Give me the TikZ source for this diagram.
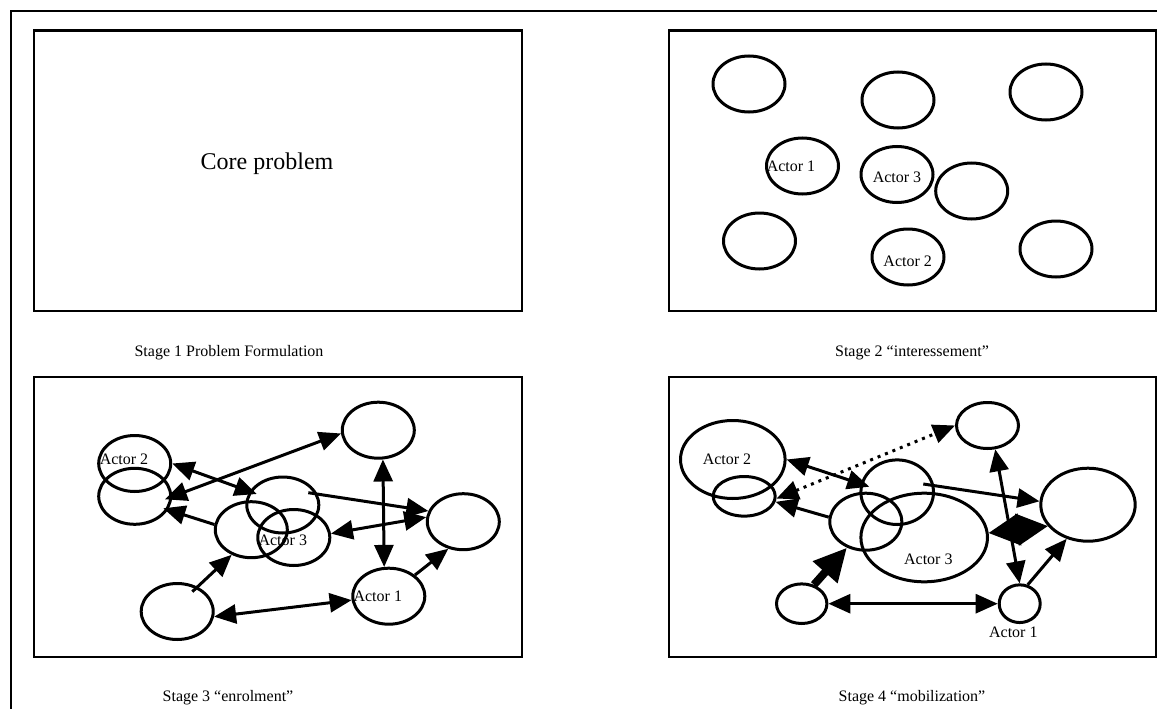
\documentclass[tikz,border=0pt]{standalone}
\usepackage{fontspec}
\setmainfont{Liberation Serif}
\usetikzlibrary{shapes.geometric,arrows.meta}
\begin{document}
\begin{tikzpicture}[x=1pt,y=-1pt,
  frame/.style={line width=2.2pt},
  panel/.style={draw,line width=2.6pt},
  actor/.style={ellipse,draw,line width=3pt,inner sep=0pt,minimum width=72pt,minimum height=56pt},
  lbl/.style={font=\fontsize{16}{19}\selectfont,inner sep=0pt},
  caption/.style={font=\fontsize{16}{19}\selectfont,inner sep=0pt},
  link/.style={line width=3pt,-{Triangle[length=22pt,width=19pt]}},
  dlink/.style={line width=3pt,{Triangle[length=22pt,width=19pt]}-{Triangle[length=22pt,width=19pt]}},
  dotlink/.style={line width=3pt,dash pattern=on 3pt off 5pt,{Triangle[length=22pt,width=19pt]}-{Triangle[length=22pt,width=19pt]}},
  fatlink/.style={line width=8pt,-{Triangle[length=33pt,width=31pt]}},
  diamondlink/.style={line width=2pt,{Triangle[length=31pt,width=32pt]}-{Triangle[length=31pt,width=32pt]}},
]
\useasboundingbox (0,0) rectangle (1157,709);
% outer frame (clipped by page)
\draw[frame] (11,712) -- (11,11) -- (1160,11);

% panels
\draw[panel] (34,30.5) rectangle (522,311);
\draw[panel] (669,30.5) rectangle (1156,311);
\draw[panel] (34,377) rectangle (522,657);
\draw[panel] (669,377) rectangle (1156,657);

% captions
\node[caption] (c1) at (229,353) {Stage 1 Problem Formulation};
\node[caption] (c2) at (912,353) {Stage 2 “interessement”};
\node[caption] (c3) at (228,698) {Stage 3 “enrolment”};
\node[caption] (c4) at (912,698) {Stage 4 “mobilization”};

% Stage 1
\node[font=\fontsize{24}{29}\selectfont,inner sep=0pt] (core) at (267,164) {Core problem};

% Stage 2
\node[actor] (s2a) at (749,84) {};
\node[actor] (s2b) at (898,100) {};
\node[actor] (s2c) at (1046,92) {};
\node[actor] (s2d) at (802.5,166) {};
\node[actor] (s2e) at (897,174.5) {};
\node[actor] (s2f) at (971.7,191) {};
\node[actor] (s2g) at (759.5,241) {};
\node[actor] (s2h) at (908,257) {};
\node[actor] (s2i) at (1056,249) {};
\node[lbl] (s2la) at (791,166.3) {Actor 1};
\node[lbl] (s2lc) at (897,177.5) {Actor 3};
\node[lbl] (s2lb) at (907.7,260.8) {Actor 2};

% Stage 3
\node[actor] (s3a) at (378.3,430.2) {};
\node[actor] (s3b) at (134.7,463.5) {};
\node[actor] (s3c) at (134.7,496.3) {};
\node[actor] (s3d) at (282.8,505) {};
\node[actor] (s3e) at (251.3,529.7) {};
\node[actor] (s3f) at (293.8,537.5) {};
\node[actor] (s3g) at (463.3,521.7) {};
\node[actor] (s3h) at (177.2,611.5) {};
\node[actor] (s3i) at (388.8,596.2) {};
\node[lbl] (s3lb) at (124,458.8) {Actor 2};
\node[lbl] (s3lc) at (282.8,540.7) {Actor 3};
\node[lbl] (s3la) at (377.8,595.8) {Actor 1};

\coordinate (p1) at (165,499.3);
\coordinate (p2) at (256.7,494);
\coordinate (p3) at (163.3,508.3);
\coordinate (p4) at (308.3,492.7);
\coordinate (p7) at (192.3,591.7);

\draw[dlink] (p1) -- (s3a.185);
\draw[dlink] (s3b.east) -- (p2);
\draw[link] (s3e.172) -- (p3);
\draw[link] (p4) -- (s3g.163);
\draw[dlink] (s3f.6) -- (s3g.173);
\draw[dlink] (s3a.-81) -- (s3i.99);
\draw[link] (p7) -- (s3e.-128);
\draw[dlink] (s3h.-8) -- (s3i.186);
\draw[link] (s3i.39) -- (s3g.-119);

% Stage 4
\node[actor,minimum width=104.6pt,minimum height=78pt] (s4a) at (732.8,459.5) {};
\node[actor,minimum width=62pt,minimum height=39.6pt] (s4b) at (744.2,496.3) {};
\node[actor,minimum width=62pt,minimum height=46pt] (s4c) at (987.5,425.5) {};
\node[actor,minimum width=72.6pt,minimum height=64.6pt] (s4d) at (897.2,492.2) {};
\node[actor,minimum width=72pt,minimum height=57pt] (s4e) at (865.8,521.7) {};
\node[actor,minimum width=126.6pt,minimum height=88.6pt] (s4f) at (924.2,537.5) {};
\node[actor,minimum width=94.4pt,minimum height=73pt] (s4g) at (1088,504.7) {};
\node[actor,minimum width=50.4pt,minimum height=39.6pt] (s4h) at (801.7,603.7) {};
\node[actor,minimum width=41pt,minimum height=37.7pt] (s4i) at (1019.7,603.7) {};
\node[lbl] (s4lb) at (727,459.5) {Actor 2};
\node[lbl] (s4lc) at (928.3,558.8) {Actor 3};
\node[lbl] (s4la) at (1013.3,632.5) {Actor 1};

\coordinate (q1) at (869.3,486.7);
\coordinate (q4) at (923.3,484);

\draw[dlink] (s4a.east) -- (q1);
\draw[dotlink] (s4b.-4) -- (s4c.west);
\draw[link] (s4e.173) -- (s4b.-10);
\draw[link] (q4) -- (s4g.176);
\draw[diamondlink] (s4f.4) -- (s4g.-152);
\draw[dlink] (s4c.-72) -- (s4i.north);
\draw[link] (s4i.67) -- (s4g.-122);
\draw[fatlink] (s4h.57) -- (s4e.-126);
\draw[dlink] (s4h.east) -- (s4i.west);
\end{tikzpicture}
\end{document}
